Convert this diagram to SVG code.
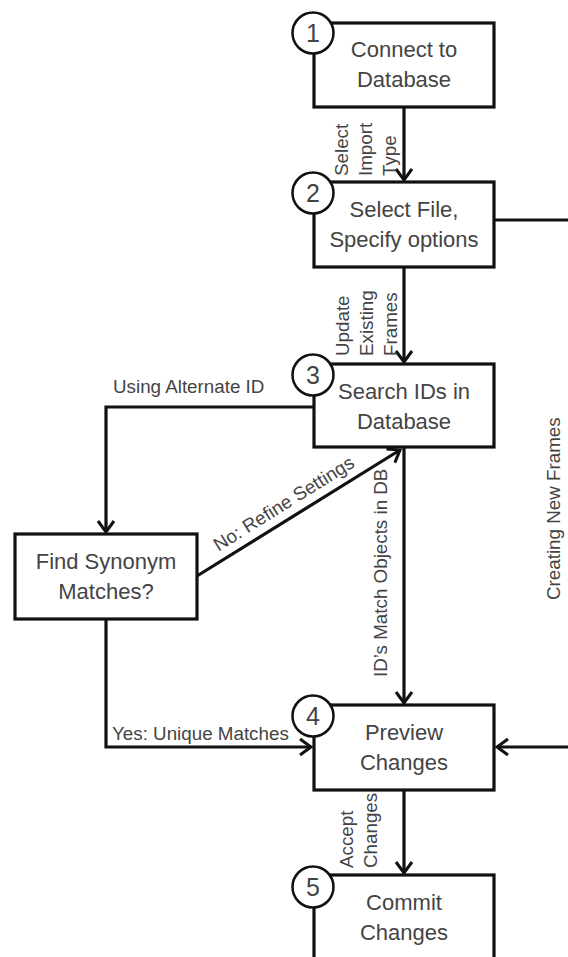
<svg xmlns="http://www.w3.org/2000/svg" width="568" height="957" viewBox="0 0 568 957">
<defs>
<marker id="arr" markerUnits="userSpaceOnUse" markerWidth="20" markerHeight="20" viewBox="-14 -10 16 20" refX="0" refY="0" orient="auto">
<path d="M-11,-8 L0,0 L-11,8" fill="none" stroke="#111" stroke-width="3"/>
</marker>
</defs>
<style>
.box{fill:#fff;stroke:#111;stroke-width:3.2}
.num{fill:#fff;stroke:#111;stroke-width:2.5}
.t{font-family:"Liberation Sans",Arial,sans-serif;font-size:22px;fill:#444;text-anchor:middle}
.n{font-family:"Liberation Sans",Arial,sans-serif;font-size:25px;fill:#444;text-anchor:middle}
.l{font-family:"Liberation Sans",Arial,sans-serif;font-size:18.8px;fill:#444}
.c{fill:none;stroke:#111;stroke-width:3.2}
</style>
<rect width="568" height="957" fill="#fff"/>
<g id="connectors">
<line class="c" x1="404" y1="107" x2="404" y2="180" marker-end="url(#arr)"/>
<line class="c" x1="404" y1="267" x2="404" y2="362" marker-end="url(#arr)"/>
<line class="c" x1="404" y1="447" x2="404" y2="703" marker-end="url(#arr)"/>
<line class="c" x1="404" y1="790" x2="404" y2="873" marker-end="url(#arr)"/>
<line class="c" x1="494" y1="220" x2="570" y2="220"/>
<line class="c" x1="570" y1="747" x2="497" y2="747" marker-end="url(#arr)"/>
<polyline class="c" points="313,407 106,407 106,532" marker-end="url(#arr)"/>
<line class="c" x1="197" y1="576" x2="400" y2="450" marker-end="url(#arr)"/>
<polyline class="c" points="106,619 106,747 311,747" marker-end="url(#arr)"/>
<text class="l" transform="translate(348,176) rotate(-90)">Select</text>
<text class="l" transform="translate(372,176) rotate(-90)">Import</text>
<text class="l" transform="translate(396,176) rotate(-90)">Type</text>
<text class="l" transform="translate(349,356) rotate(-90)">Update</text>
<text class="l" transform="translate(373,356) rotate(-90)">Existing</text>
<text class="l" transform="translate(397,356) rotate(-90)">Frames</text>
<text class="l" transform="translate(353,868) rotate(-90)">Accept</text>
<text class="l" transform="translate(377,868) rotate(-90)">Changes</text>
<text class="l" transform="translate(387,677) rotate(-90)">ID’s Match Objects in DB</text>
<text class="l" transform="translate(560,600) rotate(-90)">Creating New Frames</text>
<text class="l" x="113" y="393">Using Alternate ID</text>
<text class="l" x="112" y="740">Yes: Unique Matches</text>
<text class="l" text-anchor="middle" transform="translate(287,509) rotate(-32)">No: Refine Settings</text>
</g>
<g id="node1">
<rect class="box" x="314" y="23" width="180" height="84"/>
<text class="t" x="404" y="57">Connect to</text>
<text class="t" x="404" y="87">Database</text>
<circle class="num" cx="313" cy="33" r="20.5"/>
<text class="n" x="313" y="42">1</text>
</g>
<g id="node2">
<rect class="box" x="314" y="182" width="180" height="85"/>
<text class="t" x="404" y="217">Select File,</text>
<text class="t" x="404" y="247">Specify options</text>
<circle class="num" cx="313" cy="193" r="20.5"/>
<text class="n" x="313" y="202">2</text>
</g>
<g id="node3">
<rect class="box" x="314" y="364" width="180" height="83"/>
<text class="t" x="404" y="399">Search IDs in</text>
<text class="t" x="404" y="429">Database</text>
<circle class="num" cx="313" cy="375" r="20.5"/>
<text class="n" x="313" y="384">3</text>
</g>
<g id="synonym">
<rect class="box" x="15" y="534" width="182" height="85"/>
<text class="t" x="106" y="569">Find Synonym</text>
<text class="t" x="106" y="599">Matches?</text>
</g>
<g id="node4">
<rect class="box" x="314" y="705" width="180" height="85"/>
<text class="t" x="404" y="740">Preview</text>
<text class="t" x="404" y="770">Changes</text>
<circle class="num" cx="313" cy="716" r="20.5"/>
<text class="n" x="313" y="725">4</text>
</g>
<g id="node5">
<rect class="box" x="314" y="875" width="180" height="100"/>
<text class="t" x="404" y="910">Commit</text>
<text class="t" x="404" y="940">Changes</text>
<circle class="num" cx="313" cy="887" r="20.5"/>
<text class="n" x="313" y="896">5</text>
</g>
</svg>
